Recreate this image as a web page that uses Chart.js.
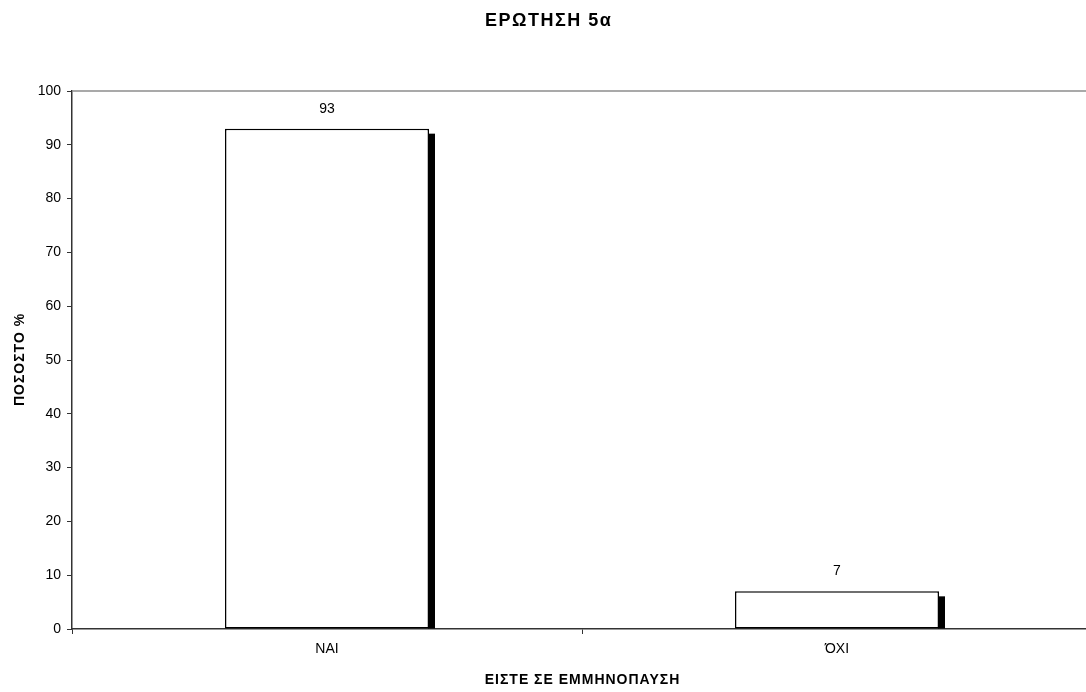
<!DOCTYPE html>
<html lang="el">
<head>
    <meta charset="UTF-8" />
    <title>ΕΡΩΤΗΣΗ 5α</title>
    <script src="https://cdn.jsdelivr.net/npm/chart.js"></script>
    <style> html, body { margin: 0; padding: 0; background: #fff; overflow: hidden; } #wrap { width: 1086px; height: 692px; overflow: hidden; } </style>
</head>
<body>
    <!-- plot area runs slightly past the right edge of the window, as in the original -->
    <div id="wrap"><canvas id="chart" width="1092" height="692"></canvas></div>

    <script>
        // Data
        const categories = ['ΝΑΙ', 'ΌΧΙ'];
        const percentages = [93, 7];
        const yTicks = [0, 10, 20, 30, 40, 50, 60, 70, 80, 90, 100];

        const chartTitle = 'ΕΡΩΤΗΣΗ 5α';
        const xTitle = 'ΕΙΣΤΕ ΣΕ ΕΜΜΗΝΟΠΑΥΣΗ';
        const yTitle = 'ΠΟΣΟΣΤΟ %';

        const fontFamily = "'Liberation Sans', Arial, sans-serif";

        // small helper: titles in the old Excel look need some letter spacing
        function spacedText(ctx, text, x, y, font, spacing, angle) {
            ctx.save();
            ctx.translate(x, y);
            if (angle) ctx.rotate(angle);
            ctx.font = font;
            ctx.letterSpacing = spacing + 'px';
            ctx.fillStyle = '#000';
            ctx.textAlign = 'center';
            ctx.textBaseline = 'middle';
            ctx.fillText(text, spacing / 2, 0);
            ctx.restore();
        }

        // bar shadow (black block to the right) + value labels + plot top border + titles
        const excelLook = {
            id: 'excelLook',
            beforeDatasetsDraw(chart) {
                const ctx = chart.ctx;
                const area = chart.chartArea;
                ctx.save();
                ctx.strokeStyle = '#8c8c8c';
                ctx.lineWidth = 1.5;
                ctx.beginPath();
                ctx.moveTo(area.left, area.top);
                ctx.lineTo(area.right, area.top);
                ctx.stroke();

                ctx.fillStyle = '#000';
                chart.getDatasetMeta(0).data.forEach(bar => {
                    const right = bar.x + bar.width / 2;
                    ctx.fillRect(right - 1, bar.y + 5, 7, bar.base - bar.y - 5);
                });
                ctx.restore();
            },
            afterDatasetsDraw(chart) {
                const ctx = chart.ctx;
                ctx.save();
                ctx.fillStyle = '#000';
                ctx.font = '14px ' + fontFamily;
                ctx.textAlign = 'center';
                ctx.textBaseline = 'middle';
                chart.getDatasetMeta(0).data.forEach((bar, i) => {
                    ctx.fillText(String(percentages[i]), bar.x, bar.y - 20);
                });
                ctx.restore();
            },
            afterDraw(chart) {
                const ctx = chart.ctx;
                const area = chart.chartArea;
                spacedText(ctx, chartTitle, 548, 21, 'bold 18px ' + fontFamily, 1.5);
                spacedText(ctx, xTitle, 582, 680, 'bold 14px ' + fontFamily, 1);
                spacedText(ctx, yTitle, 20, (area.top + area.bottom) / 2, 'bold 14px ' + fontFamily, 1, -Math.PI / 2);
            }
        };

        new Chart(document.getElementById('chart'), {
            type: 'bar',
            data: {
                labels: categories,
                datasets: [{
                    data: percentages,
                    backgroundColor: '#fff',
                    borderColor: '#000',
                    borderWidth: 1.5,
                    borderSkipped: false,
                    barPercentage: 0.4,
                    categoryPercentage: 1
                }]
            },
            options: {
                responsive: false,
                animation: false,
                layout: { padding: { top: 91, right: 0, bottom: 0, left: 0 } },
                plugins: {
                    legend: { display: false },
                    tooltip: { enabled: false },
                    title: { display: false }
                },
                scales: {
                    x: {
                        offset: true,
                        grid: { offset: true, drawOnChartArea: false, tickLength: 5, color: '#333', lineWidth: 1 },
                        border: { color: '#333', width: 1.5 },
                        ticks: { color: '#000', font: { family: fontFamily, size: 14 }, padding: 7, maxRotation: 0 },
                        afterFit(scale) { scale.height = 63; }
                    },
                    y: {
                        min: 0,
                        max: 100,
                        afterBuildTicks(scale) { scale.ticks = yTicks.map(v => ({ value: v })); },
                        grid: { drawOnChartArea: false, tickLength: 5, color: '#333' },
                        border: { color: '#333', width: 1.5 },
                        ticks: { color: '#000', font: { family: fontFamily, size: 14 }, padding: 6 },
                        afterFit(scale) { scale.width = 72; }
                    }
                }
            },
            plugins: [excelLook]
        });
    </script>
</body>
</html>
